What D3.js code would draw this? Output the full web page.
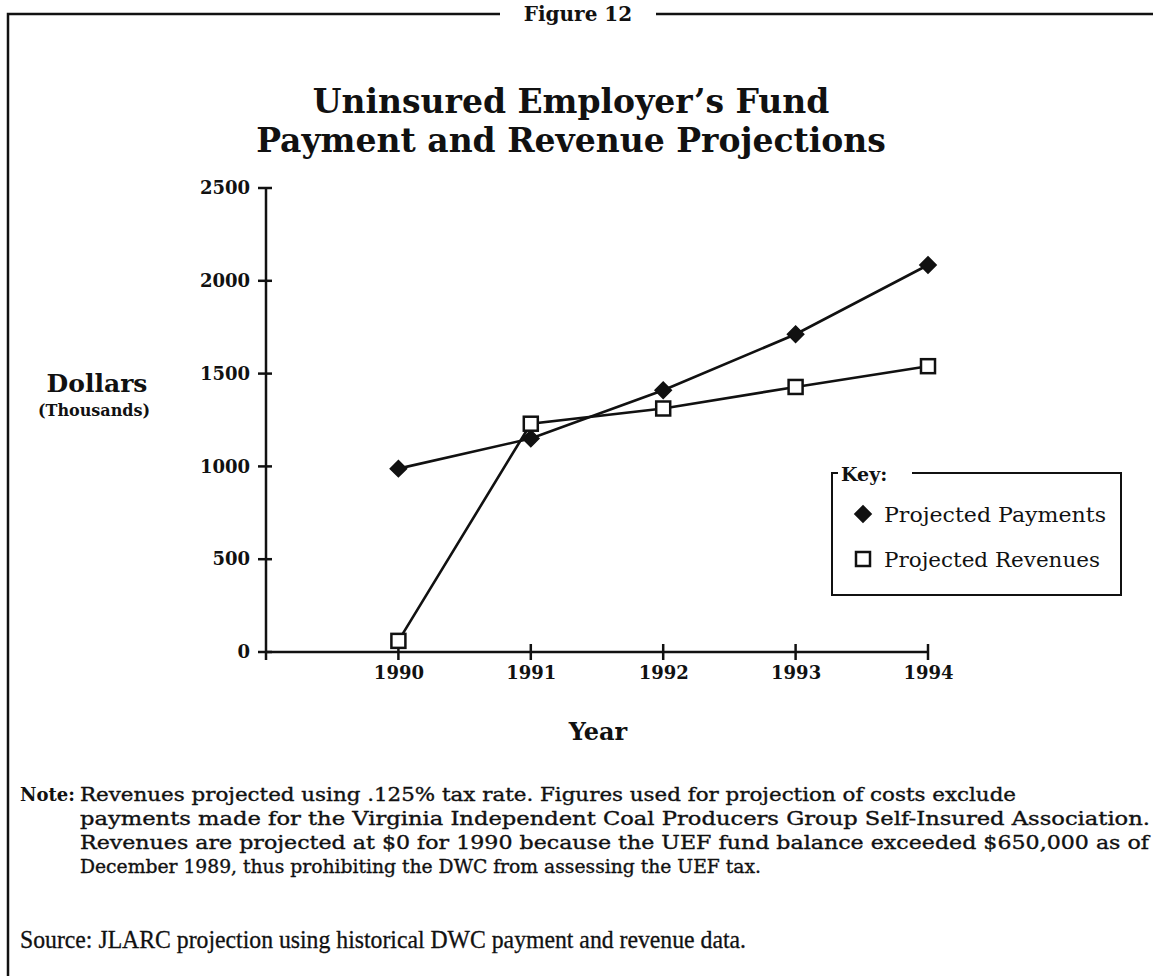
<!DOCTYPE html>
<html>
<head>
<meta charset="utf-8">
<script src="https://cdn.jsdelivr.net/npm/d3@7"></script>
<style>
	body { margin: 0; background: #fff; }
	svg { display: block; }
	text { font-family: "DejaVu Serif", "Liberation Serif", serif; fill: #111; }
</style>
</head>
<body>
<svg id="viz_area" width="1153" height="976"></svg>
<script>
// values (thousands of dollars)
const years = [1990, 1991, 1992, 1993, 1994];
const payments = [988, 1150, 1410, 1712, 2085];
const revenues = [60, 1230, 1312, 1428, 1540];
const yTicks = [0, 500, 1000, 1500, 2000, 2500];
const noteLines = [
	'Revenues projected using .125% tax rate.  Figures used for projection of costs exclude',
	'payments made for the Virginia Independent Coal Producers Group Self-Insured Association.',
	'Revenues are projected at $0 for 1990 because the UEF fund balance exceeded $650,000 as of',
	'December 1989, thus prohibiting the DWC from assessing the UEF tax.'
];
const noteWidths = [936, 1070, 1069, 681];

let svg = d3.select('#viz_area');

// frame round the figure
svg.append('path')
	.attr('d', 'M8,976 V14 H500 M656,14 H1153')
	.attr('fill', 'none')
	.attr('stroke', '#111')
	.attr('stroke-width', 2.5);
svg.append('text')
	.attr('x', 578).attr('y', 21)
	.attr('text-anchor', 'middle')
	.style('font-size', '20px').style('font-weight', 'bold')
	.text('Figure 12');

// title
svg.append('text')
	.attr('x', 571).attr('y', 113)
	.attr('text-anchor', 'middle')
	.style('font-size', '33px').style('font-weight', 'bold')
	.text('Uninsured Employer\u2019s Fund');
svg.append('text')
	.attr('x', 571).attr('y', 152)
	.attr('text-anchor', 'middle')
	.style('font-size', '33px').style('font-weight', 'bold')
	.text('Payment and Revenue Projections');

let x = d3.scaleLinear().domain([1989, 1994]).range([266, 928]);
let y = d3.scaleLinear().domain([0, 2500]).range([652, 188]);

// y axis
let yAxis = svg.append('g').attr('transform', 'translate(266,0)')
	.call(d3.axisLeft(y).tickValues(yTicks).tickFormat(d3.format('d')).tickSize(0).tickPadding(16));
yAxis.select('.domain').remove();
yAxis.selectAll('text').style('font-size', '18px').style('font-weight', 'bold')
	.style('font-family', '"DejaVu Serif", serif');
svg.append('line')
	.attr('x1', 266).attr('x2', 266)
	.attr('y1', y(2500)).attr('y2', y(0) + 8)
	.attr('stroke', '#111').attr('stroke-width', 2.5);
svg.selectAll('.ytick').data(yTicks).enter().append('line')
	.attr('class', 'ytick')
	.attr('x1', 258).attr('x2', 272)
	.attr('y1', d => y(d)).attr('y2', d => y(d))
	.attr('stroke', '#111').attr('stroke-width', 2.5);

// x axis
let xAxis = svg.append('g').attr('transform', 'translate(0,' + y(0) + ')')
	.call(d3.axisBottom(x).tickValues(years).tickFormat(d3.format('d')).tickSize(0).tickPadding(14));
xAxis.select('.domain').remove();
xAxis.selectAll('text').style('font-size', '18px').style('font-weight', 'bold')
	.style('font-family', '"DejaVu Serif", serif');
svg.append('line')
	.attr('x1', 266).attr('x2', x(1994))
	.attr('y1', y(0)).attr('y2', y(0))
	.attr('stroke', '#111').attr('stroke-width', 2.5);
svg.selectAll('.xtick').data(years).enter().append('line')
	.attr('class', 'xtick')
	.attr('x1', d => x(d)).attr('x2', d => x(d))
	.attr('y1', y(0) - 8).attr('y2', y(0) + 8)
	.attr('stroke', '#111').attr('stroke-width', 2.5);

// axis titles
svg.append('text')
	.attr('x', 598).attr('y', 740)
	.attr('text-anchor', 'middle')
	.style('font-size', '24px').style('font-weight', 'bold')
	.text('Year');
svg.append('text')
	.attr('x', 97).attr('y', 392)
	.attr('text-anchor', 'middle')
	.style('font-size', '25px').style('font-weight', 'bold')
	.text('Dollars');
svg.append('text')
	.attr('x', 94).attr('y', 416)
	.attr('text-anchor', 'middle')
	.style('font-size', '16px').style('font-weight', 'bold')
	.text('(Thousands)');

// lines
let line = d3.line().x((d, i) => x(years[i])).y(d => y(d));
svg.append('path').attr('d', line(payments))
	.attr('fill', 'none').attr('stroke', '#111').attr('stroke-width', 2.6);
svg.append('path').attr('d', line(revenues))
	.attr('fill', 'none').attr('stroke', '#111').attr('stroke-width', 2.6);

let diamond = d3.symbol().type(d3.symbolDiamond2).size(170);
svg.selectAll('.pay').data(payments).enter().append('path')
	.attr('class', 'pay')
	.attr('d', diamond)
	.attr('transform', (d, i) => 'translate(' + x(years[i]) + ',' + y(d) + ')')
	.attr('fill', '#111').attr('stroke', '#111').attr('stroke-width', 1.5);
svg.selectAll('.rev').data(revenues).enter().append('rect')
	.attr('class', 'rev')
	.attr('x', (d, i) => x(years[i]) - 7)
	.attr('y', d => y(d) - 7)
	.attr('width', 14).attr('height', 14)
	.attr('fill', '#fff').attr('stroke', '#111').attr('stroke-width', 2.5);

// key
svg.append('path')
	.attr('d', 'M838,473 H832 V595 H1121 V473 H912')
	.attr('fill', 'none').attr('stroke', '#111').attr('stroke-width', 2);
svg.append('text')
	.attr('x', 841).attr('y', 481)
	.style('font-size', '19px').style('font-weight', 'bold')
	.text('Key:');
svg.append('path')
	.attr('d', diamond)
	.attr('transform', 'translate(863,514)')
	.attr('fill', '#111').attr('stroke', '#111').attr('stroke-width', 1.5);
svg.append('text')
	.attr('x', 884).attr('y', 522)
	.attr('textLength', 222)
	.attr('lengthAdjust', 'spacingAndGlyphs')
	.style('font-size', '20px')
	.text('Projected Payments');
svg.append('rect')
	.attr('x', 856).attr('y', 552).attr('width', 14).attr('height', 14)
	.attr('fill', '#fff').attr('stroke', '#111').attr('stroke-width', 2.5);
svg.append('text')
	.attr('x', 884).attr('y', 567)
	.attr('textLength', 216)
	.attr('lengthAdjust', 'spacingAndGlyphs')
	.style('font-size', '20px')
	.text('Projected Revenues');

// note and source
svg.append('text')
	.attr('x', 20).attr('y', 801)
	.style('font-size', '18px').style('font-weight', 'bold')
	.text('Note:');
svg.selectAll('.note').data(noteLines).enter().append('text')
	.attr('class', 'note')
	.attr('x', 80)
	.attr('y', (d, i) => 801 + i * 24)
	.attr('textLength', (d, i) => noteWidths[i])
	.attr('lengthAdjust', 'spacingAndGlyphs')
	.style('font-size', '18px')
	.style('stroke', '#111').style('stroke-width', 0.35)
	.text(d => d);
svg.append('text')
	.attr('x', 20).attr('y', 948)
	.attr('textLength', 726)
	.attr('lengthAdjust', 'spacingAndGlyphs')
	.style('font-family', '"Liberation Serif", serif')
	.style('font-size', '25px')
	.style('stroke', '#111').style('stroke-width', 0.3)
	.text('Source:  JLARC projection using historical DWC payment and revenue data.');
</script>
</body>
</html>
